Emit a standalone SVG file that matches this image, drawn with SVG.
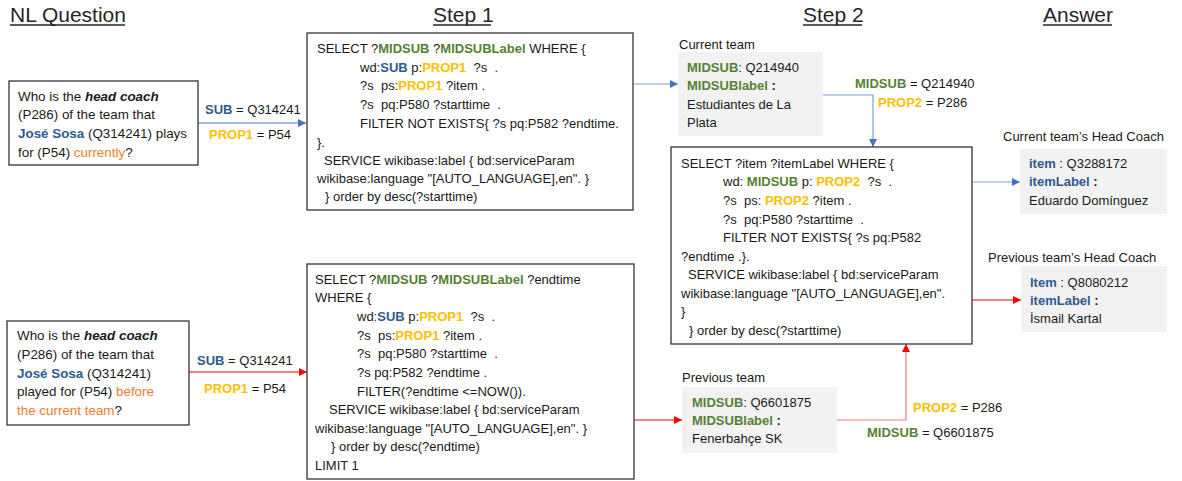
<svg xmlns="http://www.w3.org/2000/svg" width="1182" height="481" viewBox="0 0 1182 481">
<defs>
<style>
text{font-family:"Liberation Sans",Arial,sans-serif;font-size:13px;fill:#1a1a1a;white-space:pre;}
.title{font-size:21px;fill:#262626;}
.q{font-size:13.4px;}
.ul{stroke:#262626;stroke-width:1.3;}
.box{fill:#fff;stroke:#333;stroke-width:1.3;}
.gbox{fill:#f2f2f2;stroke:none;}
.b{font-weight:bold;}
.bi{font-weight:bold;font-style:italic;}
.blue{font-weight:bold;fill:#2f5b8f;}
.green{font-weight:bold;fill:#548235;}
.yel{font-weight:bold;fill:#ffc000;}
.org{fill:#ed7d31;}
.cb{fill:none;stroke:#4472c4;stroke-width:1.2;}
.cb2{fill:none;stroke:#7fa0dc;stroke-width:1.2;}
.cr{fill:none;stroke:#ff0000;stroke-width:1.2;}
.cr2{fill:none;stroke:#ff7a7a;stroke-width:1.2;}
</style>
<marker id="ab" markerUnits="userSpaceOnUse" markerWidth="10" markerHeight="10" refX="8" refY="4" orient="auto"><path d="M0,0 L8,4 L0,8 z" fill="#4472c4"/></marker>
<marker id="ar" markerUnits="userSpaceOnUse" markerWidth="10" markerHeight="10" refX="8" refY="4" orient="auto"><path d="M0,0 L8,4 L0,8 z" fill="#ff0000"/></marker>
</defs>
<rect width="1182" height="481" fill="#fff"/>

<g id="titles">
<text class="title" x="10" y="22">NL Question</text>
<line class="ul" x1="10" y1="25" x2="125" y2="25"/>
<text class="title" x="433" y="22">Step 1</text>
<line class="ul" x1="433" y1="25" x2="491" y2="25"/>
<text class="title" x="803" y="22">Step 2</text>
<line class="ul" x1="803" y1="25" x2="862" y2="25"/>
<text class="title" x="1043" y="22">Answer</text>
<line class="ul" x1="1043" y1="25" x2="1112" y2="25"/>
</g>

<g id="connectors">
<path class="cb" d="M198 123 H306" marker-end="url(#ab)"/>
<path class="cb2" d="M633 84 H678" marker-end="url(#ab)"/>
<path class="cb2" d="M823 95 H873 V147" marker-end="url(#ab)"/>
<path class="cb2" d="M972 182 H1020" marker-end="url(#ab)"/>
<path class="cr" d="M189 372 H307" marker-end="url(#ar)"/>
<path class="cr" d="M634 420 H682" marker-end="url(#ar)"/>
<path class="cr2" d="M837 420 H906 V344" marker-end="url(#ar)"/>
<path class="cr" d="M972 300 H1021" marker-end="url(#ar)"/>
<text x="205" y="113.5"><tspan class="blue">SUB</tspan> = Q314241</text>
<text x="209" y="138.5"><tspan class="yel">PROP1</tspan> = P54</text>
<text x="197" y="364.5"><tspan class="blue">SUB</tspan> = Q314241</text>
<text x="204" y="392.5"><tspan class="yel">PROP1</tspan> = P54</text>
<text x="855" y="87.5"><tspan class="green">MIDSUB</tspan> = Q214940</text>
<text x="878" y="106.5"><tspan class="yel">PROP2</tspan> = P286</text>
<text x="913" y="411.5"><tspan class="yel">PROP2</tspan> = P286</text>
<text x="867" y="436.5"><tspan class="green">MIDSUB</tspan> = Q6601875</text>
</g>

<g id="q1">
<rect class="box" x="9" y="81" width="189" height="84"/>
<text class="q" x="18" y="100.5">Who is the <tspan class="bi">head coach</tspan></text>
<text class="q" x="18" y="118.5">(P286) of the team that</text>
<text class="q" x="18" y="137.5"><tspan class="blue">José Sosa</tspan> (Q314241) plays</text>
<text class="q" x="18" y="156.5">for (P54) <tspan class="org">currently</tspan>?</text>
</g>

<g id="q2">
<rect class="box" x="7" y="321" width="182" height="104"/>
<text class="q" x="17" y="339.5">Who is the <tspan class="bi">head coach</tspan></text>
<text class="q" x="17" y="358.5">(P286) of the team that</text>
<text class="q" x="17" y="377.5"><tspan class="blue">José Sosa</tspan> (Q314241)</text>
<text class="q" x="17" y="395.5">played for (P54) <tspan class="org">before</tspan></text>
<text class="q" x="17" y="414.5"><tspan class="org">the current team</tspan>?</text>
</g>

<g id="step1a">
<rect class="box" x="307" y="33" width="326" height="177"/>
<text x="317" y="52.5">SELECT ?<tspan class="green">MIDSUB</tspan> ?<tspan class="green">MIDSUBLabel</tspan> WHERE {</text>
<text x="360" y="71.5">wd:<tspan class="blue">SUB</tspan> p:<tspan class="yel">PROP1</tspan>  ?s  .</text>
<text x="360" y="89.5">?s  ps:<tspan class="yel">PROP1</tspan> ?item .</text>
<text x="360" y="108.5">?s  pq:P580 ?starttime  .</text>
<text x="360" y="127.5">FILTER NOT EXISTS{ ?s pq:P582 ?endtime.</text>
<text x="317" y="146.5">}.</text>
<text x="324" y="164.5">SERVICE wikibase:label { bd:serviceParam</text>
<text x="317" y="182.5">wikibase:language "[AUTO_LANGUAGE],en". }</text>
<text x="325" y="200.5">} order by desc(?starttime)</text>
</g>

<g id="step1b">
<rect class="box" x="307" y="264" width="327" height="215"/>
<text x="315" y="283.5">SELECT ?<tspan class="green">MIDSUB</tspan> ?<tspan class="green">MIDSUBLabel</tspan> ?endtime</text>
<text x="315" y="301.5">WHERE {</text>
<text x="357" y="320.5">wd:<tspan class="blue">SUB</tspan> p:<tspan class="yel">PROP1</tspan>  ?s  .</text>
<text x="357" y="339.5">?s  ps:<tspan class="yel">PROP1</tspan> ?item .</text>
<text x="357" y="357.5">?s  pq:P580 ?starttime  .</text>
<text x="357" y="376.5">?s pq:P582 ?endtime .</text>
<text x="357" y="395.5">FILTER(?endtime &lt;=NOW()).</text>
<text x="329" y="413.5">SERVICE wikibase:label { bd:serviceParam</text>
<text x="315" y="432.5">wikibase:language "[AUTO_LANGUAGE],en". }</text>
<text x="331" y="450.5">} order by desc(?endtime)</text>
<text x="315" y="469.5">LIMIT 1</text>
</g>

<g id="current-team">
<text x="679" y="48.5">Current team</text>
<rect class="gbox" x="678" y="52" width="145" height="84"/>
<text x="687" y="71.5"><tspan class="green">MIDSUB</tspan>: Q214940</text>
<text x="687" y="89.5"><tspan class="green">MIDSUBlabel</tspan><tspan class="b"> :</tspan></text>
<text x="687" y="108.5">Estudiantes de La</text>
<text x="687" y="126.5">Plata</text>
</g>

<g id="previous-team">
<text x="682" y="381.5">Previous team</text>
<rect class="gbox" x="682" y="387" width="155" height="66"/>
<text x="692" y="406.5"><tspan class="green">MIDSUB</tspan>: Q6601875</text>
<text x="692" y="424.5"><tspan class="green">MIDSUBlabel</tspan><tspan class="b"> :</tspan></text>
<text x="692" y="442.5">Fenerbahçe SK</text>
</g>

<g id="step2">
<rect class="box" x="671" y="147" width="301" height="197"/>
<text x="681" y="167.5">SELECT ?item ?itemLabel WHERE {</text>
<text x="723" y="185.5">wd: <tspan class="green">MIDSUB</tspan> p: <tspan class="yel">PROP2</tspan>  ?s  .</text>
<text x="723" y="204.5">?s  ps: <tspan class="yel">PROP2</tspan> ?item .</text>
<text x="723" y="223.5">?s  pq:P580 ?starttime  .</text>
<text x="723" y="241.5">FILTER NOT EXISTS{ ?s pq:P582</text>
<text x="681" y="260.5">?endtime .}.</text>
<text x="688" y="278.5">SERVICE wikibase:label { bd:serviceParam</text>
<text x="681" y="297.5">wikibase:language "[AUTO_LANGUAGE],en".</text>
<text x="681" y="315.5">}</text>
<text x="689" y="334.5">} order by desc(?starttime)</text>
</g>

<g id="answer-current">
<text x="1003" y="140.5">Current team’s Head Coach</text>
<rect class="gbox" x="1020" y="149" width="147" height="65"/>
<text x="1029" y="167.5"><tspan class="blue">item</tspan> : Q3288172</text>
<text x="1029" y="185.5"><tspan class="blue">itemLabel</tspan><tspan class="b"> :</tspan></text>
<text x="1029" y="204.5">Eduardo Domínguez</text>
</g>

<g id="answer-previous">
<text x="988" y="261.5">Previous team’s Head Coach</text>
<rect class="gbox" x="1021" y="266" width="146" height="66"/>
<text x="1030" y="286.5"><tspan class="blue">Item</tspan> : Q8080212</text>
<text x="1030" y="304.5"><tspan class="blue">itemLabel</tspan><tspan class="b"> :</tspan></text>
<text x="1030" y="322.5">İsmail Kartal</text>
</g>
</svg>
